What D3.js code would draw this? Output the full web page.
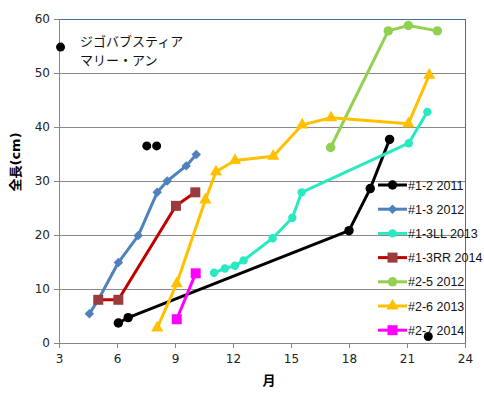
<!DOCTYPE html>
<html>
<head>
<meta charset="utf-8">
<script src="https://cdn.jsdelivr.net/npm/d3@7"></script>
<style>
  body { margin: 0; background: #fff; }
  text { font-family: "DejaVu Sans", "Noto Sans CJK JP", sans-serif; }
  text.lg { font-family: "Liberation Sans", "Noto Sans", sans-serif; }
</style>
</head>
<body>
<div id="chart"></div>
<script>
// series data: [month, length cm]
const s12_2011 = [[6.07, 3.7], [6.58, 4.7], [18.0, 20.8], [19.1, 28.6], [20.1, 37.7]];
const s13_2012 = [[4.57, 5.4], [5.03, 8.0], [6.07, 14.9], [7.1, 19.9], [8.08, 27.9], [8.6, 30.0], [9.58, 32.8], [10.1, 34.9]];
const s13LL_2013 = [[11.02, 13.0], [11.58, 13.8], [12.1, 14.3], [12.55, 15.3], [14.05, 19.4], [15.07, 23.2], [15.55, 27.9], [21.09, 37.0], [22.05, 42.8]];
const s13RR_2014 = [[5.03, 8.0], [6.07, 8.0], [9.05, 25.4], [10.05, 27.9]];
const s25_2012 = [[17.05, 36.2], [20.03, 57.8], [21.07, 58.8], [22.57, 57.8]];
const s26_2013 = [[8.08, 2.8], [9.09, 11.0], [10.57, 26.5], [11.12, 31.7], [12.1, 33.8], [14.08, 34.6], [15.58, 40.4], [17.07, 41.7], [21.07, 40.6], [22.15, 49.6]];
const s27_2014 = [[9.09, 4.4], [10.07, 12.9]];
// loose points without a line
const marieAnn = [[3.08, 54.8], [7.54, 36.5], [8.05, 36.5], [22.1, 1.2]];

const seriesNames = ["#1-2 2011", "#1-3 2012", "#1-3LL 2013", "#1-3RR 2014", "#2-5 2012", "#2-6 2013", "#2-7 2014"];
const xTicks = [3, 6, 9, 12, 15, 18, 21, 24];
const yTicks = [0, 10, 20, 30, 40, 50, 60];
const noteLines = ["ジゴバブスティア", "マリー・アン"];

const series = [
  { name: seriesNames[0], data: s12_2011, line: "#000", fill: "#000", sym: d3.symbolCircle, size: 70, rot: 0 },
  { name: seriesNames[1], data: s13_2012, line: "#4F81BD", fill: "#4F81BD", sym: d3.symbolSquare, size: 45, rot: 45 },
  { name: seriesNames[2], data: s13LL_2013, line: "#27EAC0", fill: "#27EAC0", sym: d3.symbolCircle, size: 55, rot: 0 },
  { name: seriesNames[3], data: s13RR_2014, line: "#C00000", fill: "#9B3B3B", sym: d3.symbolSquare, size: 100, rot: 0 },
  { name: seriesNames[4], data: s25_2012, line: "#92D050", fill: "#92D050", sym: d3.symbolCircle, size: 70, rot: 0 },
  { name: seriesNames[5], data: s26_2013, line: "#FFC000", fill: "#FFC000", sym: d3.symbolTriangle, size: 65, rot: 0 },
  { name: seriesNames[6], data: s27_2014, line: "#FF00FF", fill: "#FF00FF", sym: d3.symbolSquare, size: 100, rot: 0 }
];

const W = 484, H = 395;
const svg = d3.select("#chart").append("svg")
  .attr("width", W).attr("height", H);
svg.append("rect").attr("width", W).attr("height", H).attr("fill", "#fff");

const x = d3.scaleLinear().domain([3, 24]).range([59, 465]);
const y = d3.scaleLinear().domain([0, 60]).range([343, 19]);

// gridlines
svg.append("g")
  .selectAll("line")
  .data(yTicks.filter(d => d > 0 && d < 60))
  .enter().append("line")
  .attr("x1", x(3)).attr("x2", x(24))
  .attr("y1", d => y(d)).attr("y2", d => y(d))
  .attr("stroke", "#888").attr("stroke-width", 1)
  .attr("shape-rendering", "crispEdges");

// plot border top/right
svg.append("path")
  .attr("d", `M${x(3)},${y(60) + 0.5}H${x(24) + 0.5}V${y(0)}`)
  .attr("fill", "none").attr("stroke", "#4A6E96").attr("stroke-width", 1)
  .attr("shape-rendering", "crispEdges");

// axes
svg.append("g")
  .attr("transform", `translate(0,${y(0)})`)
  .call(d3.axisBottom(x).tickValues(xTicks).tickSize(5).tickPadding(6))
  .call(g => g.selectAll("line, path").attr("stroke", "#868686"))
  .call(g => g.selectAll("text").attr("font-size", 12).attr("fill", "#222"));

svg.append("g")
  .attr("transform", `translate(${x(3)},0)`)
  .call(d3.axisLeft(y).tickValues(yTicks).tickSize(5).tickPadding(4))
  .call(g => g.selectAll("line, path").attr("stroke", "#868686"))
  .call(g => g.selectAll("text").attr("font-size", 12).attr("fill", "#222"));

// axis titles
svg.append("text")
  .attr("transform", "translate(20,162) rotate(-90)")
  .attr("text-anchor", "middle")
  .attr("font-size", 13).attr("font-weight", "bold")
  .text("全長(cm)");

svg.append("text")
  .attr("x", 269).attr("y", 385)
  .attr("text-anchor", "middle")
  .attr("font-size", 13).attr("font-weight", "bold")
  .text("月");

// note text
svg.append("g")
  .selectAll("text")
  .data(noteLines)
  .enter().append("text")
  .attr("x", 80).attr("y", (d, i) => 46 + i * 19)
  .attr("font-size", 13).attr("fill", "#111")
  .text(d => d);

const line = d3.line().x(d => x(d[0])).y(d => y(d[1]));

const sg = svg.append("g").selectAll("g")
  .data(series).enter().append("g");

sg.append("path")
  .attr("d", d => line(d.data))
  .attr("fill", "none")
  .attr("stroke", d => d.line)
  .attr("stroke-width", 3)
  .attr("stroke-linejoin", "round");

sg.each(function(s) {
  d3.select(this).selectAll("path.mk")
    .data(s.data).enter().append("path")
    .attr("class", "mk")
    .attr("d", d3.symbol().type(s.sym).size(s.size))
    .attr("transform", d => `translate(${x(d[0])},${y(d[1])}) rotate(${s.rot})`)
    .attr("fill", s.fill);
});

// loose black points
svg.append("g").selectAll("circle")
  .data(marieAnn).enter().append("circle")
  .attr("cx", d => x(d[0])).attr("cy", d => y(d[1]))
  .attr("r", 4.5).attr("fill", "#000");

// legend
const lg = svg.append("g").selectAll("g")
  .data(series).enter().append("g")
  .attr("transform", (d, i) => `translate(378,${185 + i * 24.2})`);

lg.append("line")
  .attr("x1", 0).attr("x2", 29)
  .attr("stroke", d => d.line).attr("stroke-width", 3);

lg.append("path")
  .attr("d", d => d3.symbol().type(d.sym).size(d.size)())
  .attr("transform", d => `translate(14.5,0) rotate(${d.rot})`)
  .attr("fill", d => d.fill);

lg.append("text")
  .attr("class", "lg")
  .attr("x", 30).attr("y", 4.5)
  .attr("font-size", 12.5).attr("fill", "#111")
  .text(d => d.name);
</script>
</body>
</html>
